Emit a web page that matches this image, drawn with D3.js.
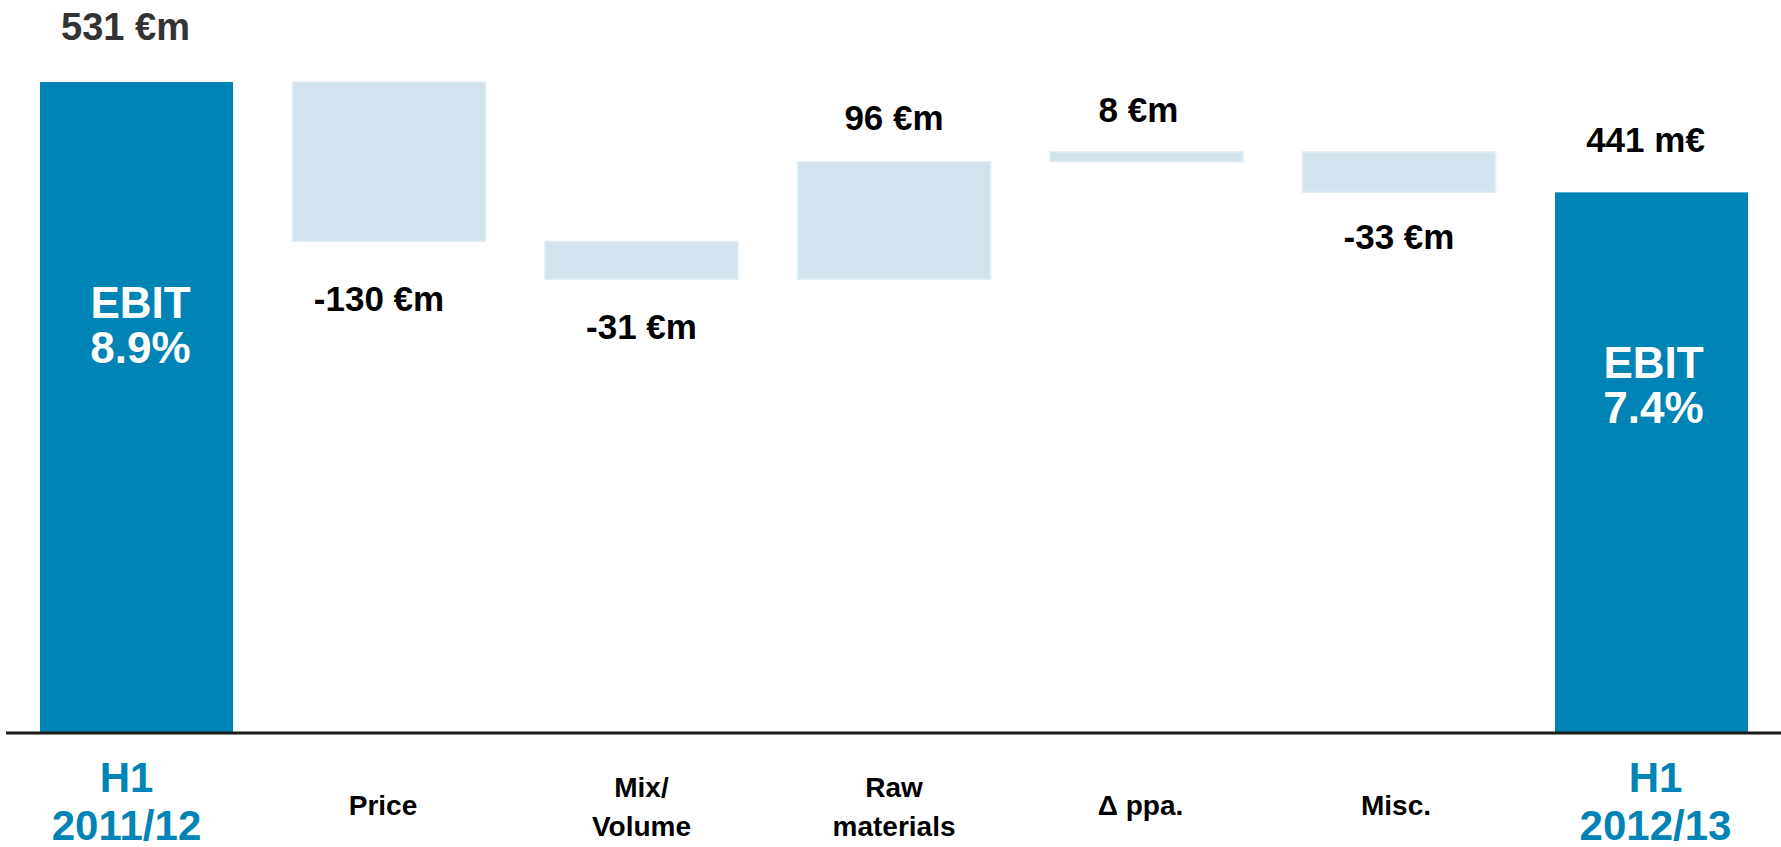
<!DOCTYPE html>
<html>
<head>
<meta charset="utf-8">
<script src="https://cdn.jsdelivr.net/npm/d3@7"></script>
<style>
  html, body { margin: 0; padding: 0; background: #fff; }
  svg { display: block; font-family: "Liberation Sans", Arial, sans-serif; font-weight: bold; }
</style>
</head>
<body>
<svg id="chart" width="1781" height="847"></svg>
<script>
// bridge data
var categories = ["H1 2011/12", "Price", "Mix/ Volume", "Raw materials", "\u0394 ppa.", "Misc.", "H1 2012/13"];
var categoryLines = [["H1", "2011/12"], ["Price"], ["Mix/", "Volume"], ["Raw", "materials"], ["\u0394 ppa."], ["Misc."], ["H1", "2012/13"]];
var kinds = ["total", "delta", "delta", "delta", "delta", "delta", "total"];
var values = [531, -130, -31, 96, 8, -33, 441];
var valueLabels = ["531 \u20acm", "-130 \u20acm", "-31 \u20acm", "96 \u20acm", "8 \u20acm", "-33 \u20acm", "441 m\u20ac"];
var marginLabels = ["8.9%", "7.4%"];

// small hand nudges so labels sit where the slide had them
var valueNudge = [[-11, 0], [-10, 10], [0, 0], [0, -2], [-8, 0], [0, -3], [-6, 2]];
var catNudge = [-10, -6, 0, 0, -6, -3, 4];

var W = 1781, H = 847;
var baseY = 733;
var dark = "#0083b5", light = "#d2e3ed", lightEdge = "#e2edf4";

var svg = d3.select("#chart");

// running totals -> start/end of every bar
var run = 0;
var bars = categories.map(function (c, i) {
    var v = values[i], lo, hi;
    if (kinds[i] === "total") {
        lo = 0; hi = v; run = v;
    } else {
        lo = run; hi = run + v; run = hi;
    }
    return { cat: c, i: i, kind: kinds[i], value: v, y0: Math.min(lo, hi), y1: Math.max(lo, hi), label: valueLabels[i] };
});

var x = d3.scaleBand()
    .domain(categories)
    .range([10.25, 1777.75])
    .paddingInner(0.2356)
    .paddingOuter(0.1178);

var y = d3.scaleLinear()
    .domain([0, 531])
    .range([baseY, 82]);

var mid = function (d) { return x(d.cat) + x.bandwidth() / 2; };

var g = svg.append("g");

g.selectAll(".bar")
    .data(bars)
  .enter().append("rect")
    .attr("class", "bar")
    .attr("x", function (d) { return x(d.cat); })
    .attr("y", function (d) { return y(d.y1); })
    .attr("width", x.bandwidth())
    .attr("height", function (d) { return Math.max(1, y(d.y0) - y(d.y1)); })
    .attr("fill", function (d) { return d.kind === "total" ? dark : light; })
    .attr("stroke", function (d) { return d.kind === "total" ? "none" : lightEdge; })
    .attr("stroke-width", 1.5);

// baseline
g.append("line")
    .attr("x1", 6).attr("x2", W)
    .attr("y1", baseY).attr("y2", baseY)
    .attr("stroke", "#1a1a1a")
    .attr("stroke-width", 3);

// value labels: above for totals/increases, below for decreases
g.selectAll(".val")
    .data(bars)
  .enter().append("text")
    .attr("class", "val")
    .attr("text-anchor", "middle")
    .attr("x", function (d) { return mid(d) + valueNudge[d.i][0]; })
    .attr("y", function (d) {
        var base = d.value < 0 ? y(d.y0) + 60 : y(d.y1) - (d.kind === "total" ? 42 : 30);
        return base + valueNudge[d.i][1];
    })
    .attr("font-size", function (d) { return d.i === 0 ? 38 : 35; })
    .attr("fill", function (d) { return d.i === 0 ? "#333" : "#000"; })
    .text(function (d) { return d.label; });

// EBIT margin inside the totals
var totals = bars.filter(function (d) { return d.kind === "total"; });
var marginTop = [318, 378];
totals.forEach(function (d, k) {
    var cx = mid(d) + (k === 0 ? 4 : 2);
    var t = g.append("text")
        .attr("text-anchor", "middle")
        .attr("fill", "#fff")
        .attr("font-size", 44)
        .attr("x", cx)
        .attr("y", marginTop[k]);
    t.append("tspan").text("EBIT");
    t.append("tspan")
        .attr("x", cx)
        .attr("dy", 45)
        .text(marginLabels[k]);
});

// category labels under the axis
var cat = g.selectAll(".cat")
    .data(bars)
  .enter().append("text")
    .attr("class", "cat")
    .attr("text-anchor", "middle")
    .attr("fill", function (d) { return d.kind === "total" ? dark : "#000"; })
    .attr("font-size", function (d) { return d.kind === "total" ? 42 : 28; })
    .attr("x", function (d) { return mid(d) + catNudge[d.i]; })
    .attr("y", function (d) {
        if (d.kind === "total") return 792;
        return categoryLines[d.i].length > 1 ? 797 : 815;
    });

cat.each(function (d) {
    var el = d3.select(this);
    var lh = d.kind === "total" ? 48 : 39;
    categoryLines[d.i].forEach(function (line, j) {
        el.append("tspan")
            .attr("x", mid(d) + catNudge[d.i])
            .attr("dy", j === 0 ? 0 : lh)
            .text(line);
    });
});
</script>
</body>
</html>
